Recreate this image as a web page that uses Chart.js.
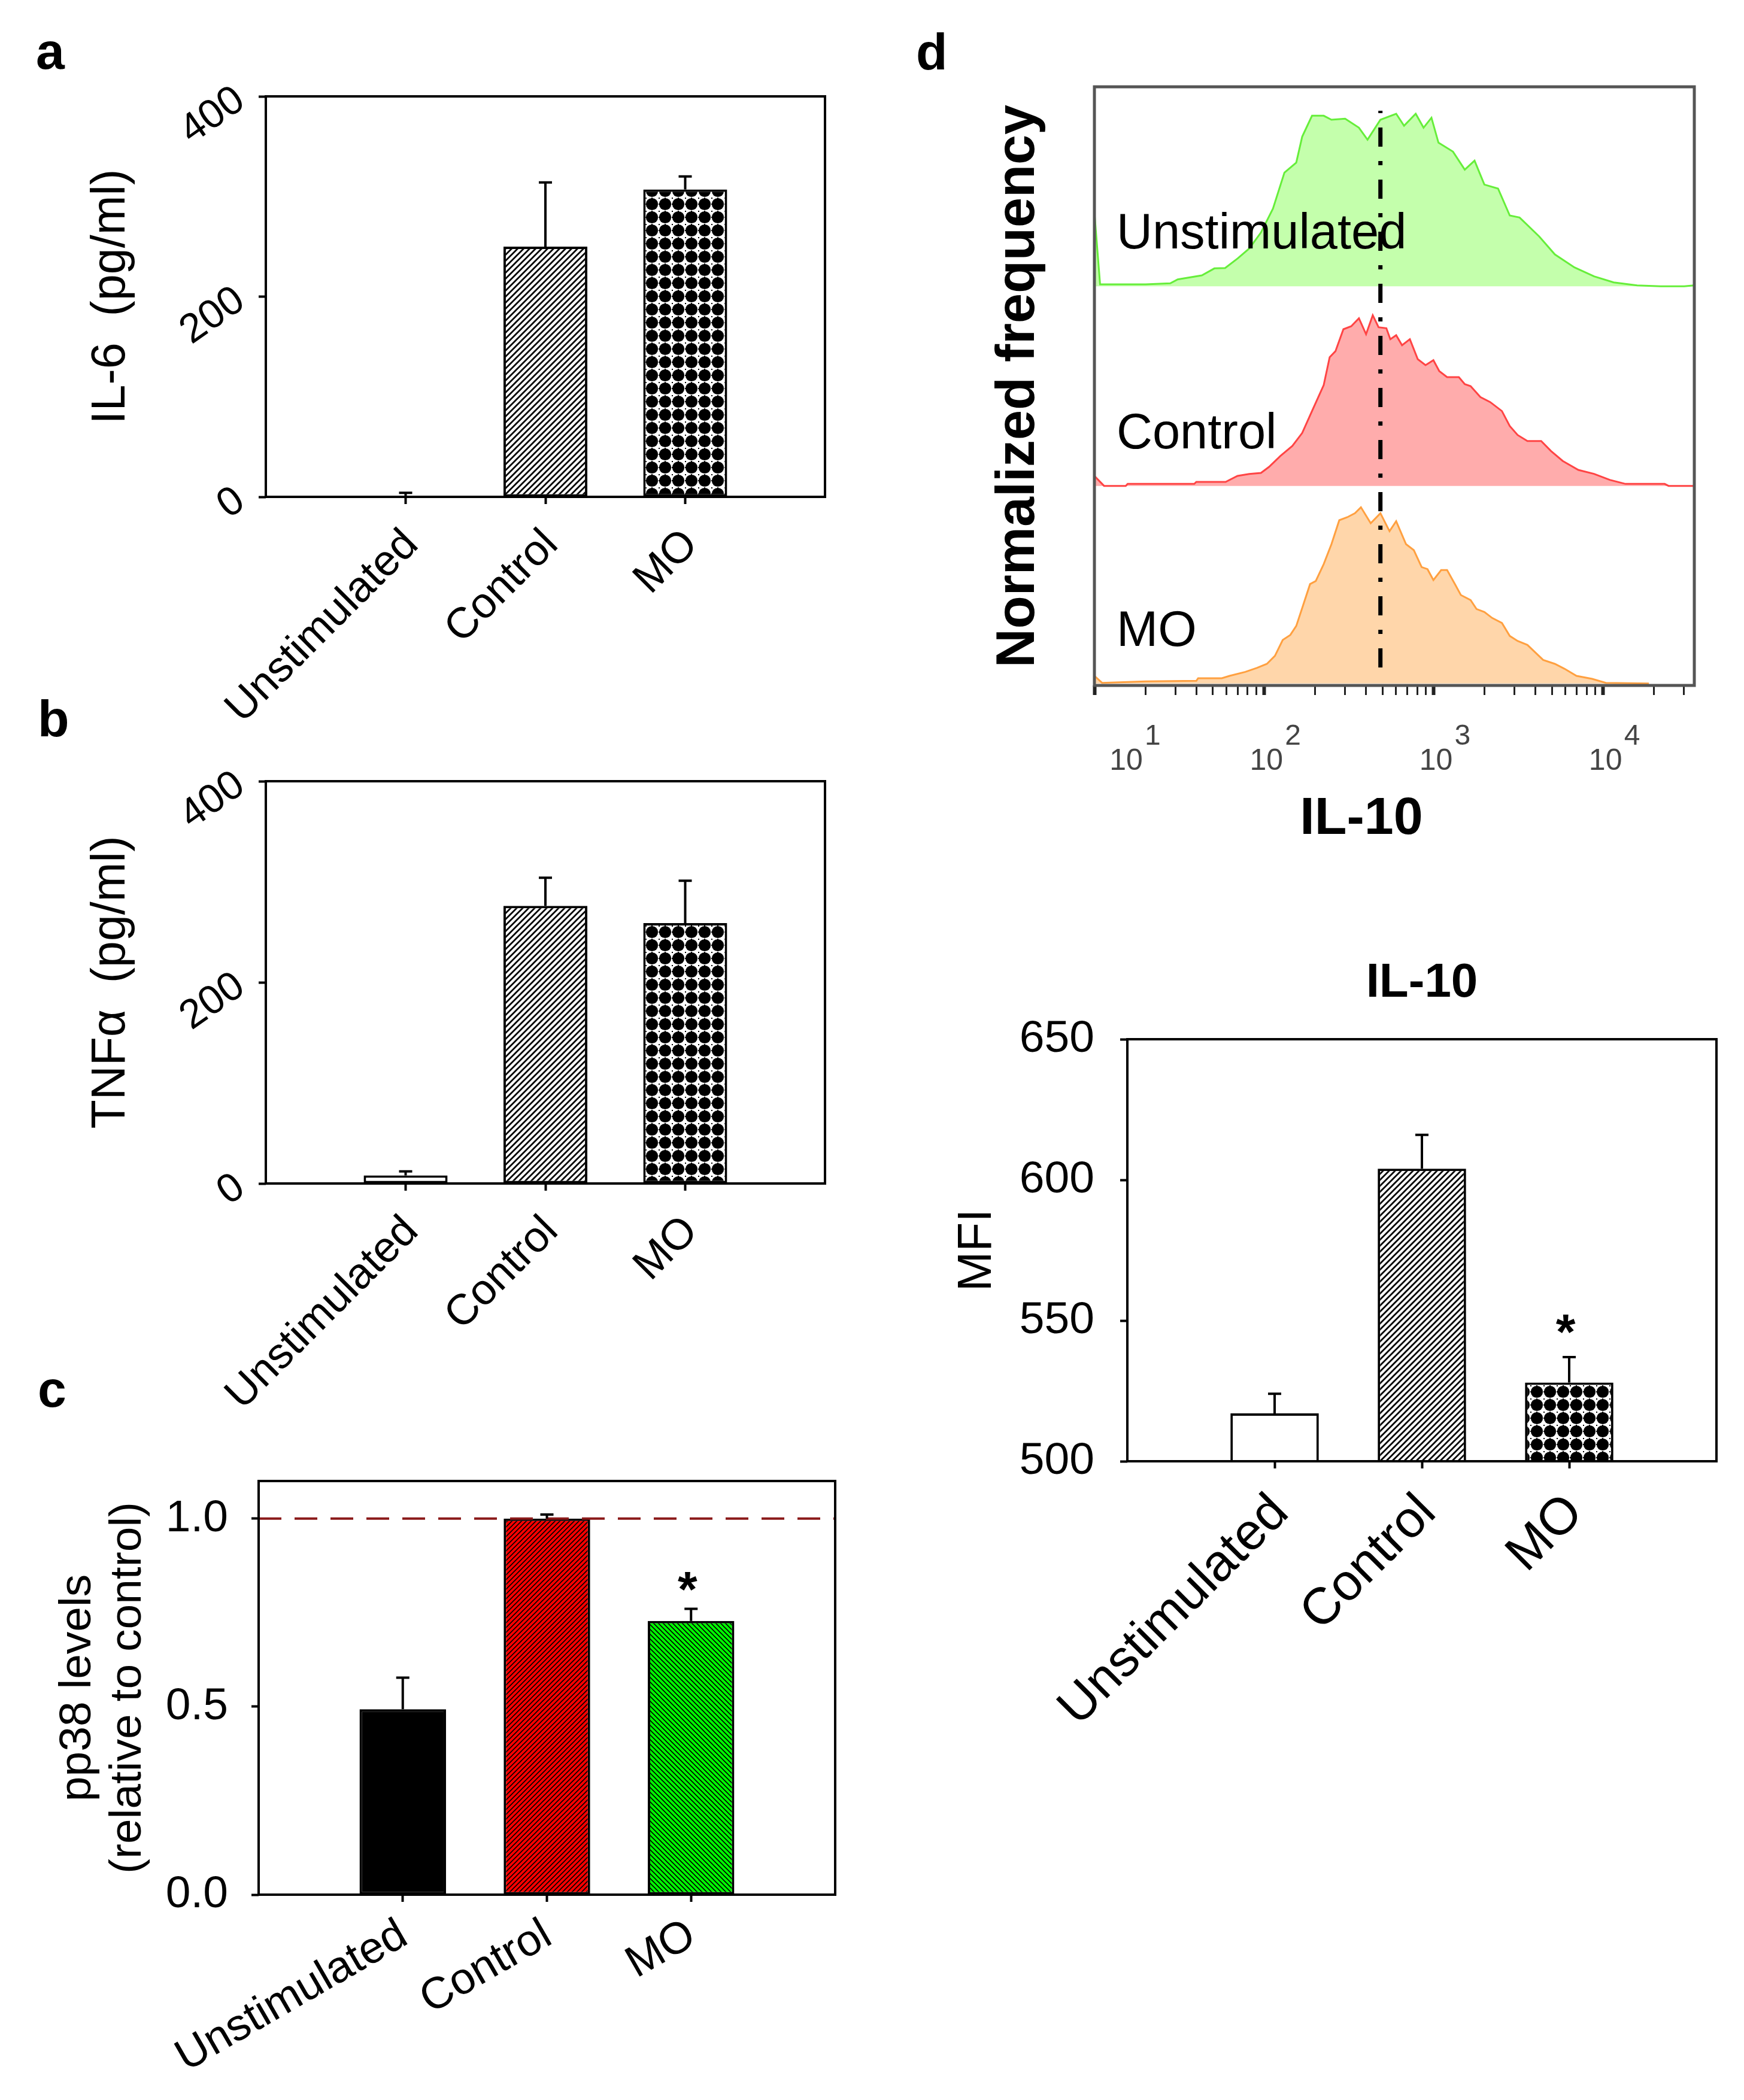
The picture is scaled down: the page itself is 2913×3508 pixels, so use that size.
<!DOCTYPE html>
<html>
<head>
<meta charset="utf-8">
<title>IL-6, TNFα, pp38 and IL-10</title>
<script src="https://cdn.jsdelivr.net/npm/chart.js@4.4.1/dist/chart.umd.min.js"></script>
<style>
  html, body { margin:0; padding:0; background:#fff; }
  #page { position:relative; width:2913px; height:3508px; background:#fff; overflow:hidden; }
  #page canvas { position:absolute; }
  .panel-letter { position:absolute; font-family:'Liberation Sans', Arial, sans-serif; font-weight:bold; font-size:86px; line-height:86px; color:#000; margin:0; }
</style>
</head>
<body>
<div id="page">
  <div class="panel-letter" style="left:60px;top:42px;">a</div>
  <div class="panel-letter" style="left:63px;top:1157px;">b</div>
  <div class="panel-letter" style="left:63px;top:2277px;">c</div>
  <div class="panel-letter" style="left:1530px;top:43px;">d</div>
  <canvas id="chartA" width="1456" height="1240" style="left:0px;top:0px;"></canvas>
  <canvas id="chartB" width="1456" height="1240" style="left:0px;top:1150px;"></canvas>
  <canvas id="chartC" width="1456" height="1208" style="left:0px;top:2300px;"></canvas>
  <canvas id="chartD" width="1457" height="1460" style="left:1456px;top:0px;"></canvas>
  <canvas id="chartE" width="1457" height="1480" style="left:1456px;top:1500px;"></canvas>
</div>
<script>
// ---------------- DATA ----------------
const categories = ['Unstimulated', 'Control', 'MO'];

// panel a : IL-6 (pg/ml)
const il6Values = [0, 250, 307];
const il6Errors = [4, 64, 13];
const il6Ticks  = [0, 200, 400];

// panel b : TNFα (pg/ml)
const tnfValues = [8, 276, 259];
const tnfErrors = [4, 28, 42];
const tnfTicks  = [0, 200, 400];

// panel c : pp38 levels relative to control
const pp38Values = [0.493, 1.0, 0.728];
const pp38Errors = [0.084, 0.011, 0.032];
const pp38Stars  = [false, false, true];
const pp38Ticks  = [0.0, 0.5, 1.0];
const pp38Reference = 1.0;

// panel d : IL-10 flow cytometry histograms (x = IL-10 intensity, y = % of lane height)
const histXUnstim = [10, 10.8, 20, 28, 31, 43, 51, 59, 70, 82, 96, 113, 132, 155, 168, 192, 225, 250, 301, 363, 408, 486, 602, 670, 785, 873, 972, 1069, 1302, 1528, 1745, 1994, 2401, 2815, 3217, 4198, 5195, 6775, 8844, 11540, 15870, 21840, 30060, 34360];
const histYUnstim = [37, 1, 1, 1.5, 3.5, 5.5, 9, 9.2, 14, 19, 27, 39, 57, 62, 75, 85.5, 85.5, 83.5, 84, 79.5, 73.5, 83.5, 86.5, 80.5, 86.5, 79.5, 84.5, 72, 67.5, 58.5, 63, 51, 49, 35.5, 34.5, 25, 16, 9.5, 5, 2, 0.5, 0, 0, 0.5];
const histXControl = [10, 11.4, 15.3, 15.7, 38.8, 39.9, 59.4, 69.8, 81.8, 96, 107, 125, 147, 168, 192, 225, 244, 264, 294, 327, 363, 400, 438, 474, 527, 556, 602, 652, 725, 807, 897, 998, 1081, 1202, 1410, 1528, 1654, 1889, 2158, 2530, 2815, 3132, 3578, 4313, 4925, 5776, 7146, 8844, 10950, 13550, 23070, 24320, 34360];
const histYControl = [5, 0, 0, 1, 1, 2, 2, 5, 6, 6.5, 9.5, 15, 20, 26.5, 37.5, 50.5, 64.5, 67.5, 78.5, 80, 84, 76, 85.5, 79.5, 79, 73.5, 75.5, 70.5, 73.5, 63.5, 60.5, 63, 57.5, 54.5, 54.5, 51, 50, 44.5, 42, 37.5, 30, 25.5, 22.5, 22.5, 17.5, 12.5, 8, 6, 3, 1, 1, 0, 0];
const histXMO = [10, 11.1, 20, 39.9, 40.9, 56.4, 62.7, 77.6, 91, 104, 116, 129, 143, 155, 168, 187, 202, 225, 250, 278, 310, 344, 373, 426, 486, 550, 602, 688, 765, 851, 921, 998, 1109, 1202, 1337, 1449, 1654, 1792, 1994, 2218, 2531, 2815, 3132, 3578, 4429, 5195, 5933, 6966, 8616, 10380, 18620];
const histYMO = [3.8, 0.3, 1, 1.3, 2.6, 2.6, 3.8, 5.8, 7.8, 9.8, 13.8, 21.8, 24.3, 28.8, 37.8, 49.8, 51.3, 59.8, 69.8, 81.8, 83.3, 85.3, 88.3, 80.3, 85.3, 76.3, 81.3, 69.8, 66.8, 58.3, 57.3, 51.8, 56.8, 56.8, 49.8, 44.3, 41.8, 37.3, 35.8, 32.8, 30.3, 23.8, 21.3, 19.3, 11.8, 9.8, 7.3, 3.8, 2.3, 0.3, 0];
const il10Median = 486;
const medianSpan = [3, 96];
const logTicks = [10, 20, 30, 40, 50, 60, 70, 80, 90, 100, 200, 300, 400, 500, 600, 700, 800, 900, 1000, 2000, 3000, 4000, 5000, 6000, 7000, 8000, 9000, 10000, 20000, 30000];
const decadeTicks = [10, 100, 1000, 10000];

// panel e : IL-10 MFI
const mfiValues = [517, 604, 528];
const mfiErrors = [7, 12, 9];
const mfiStars  = [false, false, true];
const mfiTicks  = [500, 550, 600, 650];

// ---------------- SETUP ----------------
const FONT = "'Liberation Sans', Arial, Helvetica, sans-serif";
Chart.defaults.font.family = FONT;
Chart.defaults.color = '#000';
Chart.defaults.animation = false;
Chart.defaults.responsive = false;
Chart.defaults.maintainAspectRatio = false;
Chart.defaults.devicePixelRatio = 1;
Chart.defaults.events = [];
Chart.defaults.plugins.legend.display = false;
Chart.defaults.plugins.tooltip.enabled = false;

function hatchPattern(bg, fg, size, width, dir) {
  const c = document.createElement('canvas');
  c.width = size; c.height = size;
  const g = c.getContext('2d');
  g.fillStyle = bg; g.fillRect(0, 0, size, size);
  g.strokeStyle = fg; g.lineWidth = width; g.lineCap = 'square';
  g.beginPath();
  for (let k = -1; k <= 2; k++) {
    if (dir === '/') { g.moveTo(-size, k * size + size); g.lineTo(2 * size, k * size - 2 * size); }
    else { g.moveTo(-size, k * size - size); g.lineTo(2 * size, k * size + 2 * size); }
  }
  g.stroke();
  return g.createPattern(c, 'repeat');
}
function dotPattern(size) {
  const c = document.createElement('canvas');
  c.width = size; c.height = size;
  const g = c.getContext('2d');
  g.fillStyle = '#fff'; g.fillRect(0, 0, size, size);
  g.fillStyle = '#000';
  g.beginPath();
  g.arc(size / 2, size / 2, size * 0.46, 0, Math.PI * 2);
  g.fill();
  g.fillRect(0, 0, 2, 2);
  g.fillRect(size / 2 - 1, 0, 2, 2);
  g.fillRect(0, size / 2 - 1, 2, 2);
  return g.createPattern(c, 'repeat');
}
const greyHatch = hatchPattern('#fff', '#000', 10, 2.8, '/');
const moDots = dotPattern(22);
const redHatch = hatchPattern('#ff0000', '#000', 8, 1.6, '/');
const greenHatch = hatchPattern('#00ff00', '#000', 8, 1.6, '\\');

const boxPlugin = {
  id: 'frameBox',
  afterDatasetsDraw(chart, args, opts) {
    const a = chart.chartArea, ctx = chart.ctx;
    ctx.save();
    ctx.strokeStyle = opts.color || '#000';
    ctx.lineWidth = opts.width || 4;
    ctx.strokeRect(a.left, a.top, a.right - a.left, a.bottom - a.top);
    ctx.restore();
  }
};

const errorBarPlugin = {
  id: 'errorBars',
  afterDatasetsDraw(chart, args, opts) {
    const ctx = chart.ctx, y = chart.scales.y;
    chart.data.datasets.forEach((ds, di) => {
      if (!ds.errors) return;
      const meta = chart.getDatasetMeta(di);
      meta.data.forEach((bar, i) => {
        const v = ds.data[i].y, e = ds.errors[i];
        const yTop = y.getPixelForValue(v + e);
        const yBase = y.getPixelForValue(v);
        ctx.save();
        ctx.strokeStyle = '#000';
        ctx.lineWidth = opts.width || 4;
        ctx.beginPath();
        ctx.moveTo(bar.x, yBase); ctx.lineTo(bar.x, yTop);
        ctx.moveTo(bar.x - opts.cap / 2, yTop); ctx.lineTo(bar.x + opts.cap / 2, yTop);
        ctx.stroke();
        if (ds.stars && ds.stars[i]) {
          ctx.fillStyle = '#000';
          ctx.font = 'bold ' + opts.starSize + 'px ' + FONT;
          ctx.textAlign = 'center';
          ctx.textBaseline = 'alphabetic';
          ctx.fillText('*', bar.x - 6, yTop - opts.starGap);
        }
        ctx.restore();
      });
    });
  }
};

function tickGrid(color) {
  return { display: true, offset: false, drawOnChartArea: false, drawTicks: true, tickLength: 12, tickWidth: 4, tickColor: color, color: color };
}

function barChart(id, cfg) {
  const datasets = [{
    data: categories.map((c, i) => ({ x: i + 1, y: cfg.values[i] })),
    errors: cfg.errors,
    stars: cfg.stars,
    backgroundColor: cfg.fills,
    borderColor: '#000',
    borderWidth: 4,
    borderSkipped: false,
    barPercentage: 0.6,
    categoryPercentage: 1.0,
    order: 2
  }].concat(cfg.extra || []);
  return new Chart(document.getElementById(id), {
    type: 'bar',
    data: { datasets },
    options: {
      layout: { padding: cfg.padding },
      plugins: {
        title: cfg.title || { display: false },
        frameBox: { color: '#000', width: 4 },
        errorBars: { cap: 22, width: 4, starSize: cfg.starSize || 84, starGap: cfg.starGap || 0 }
      },
      scales: {
        x: {
          type: 'linear', min: 0, max: 4, offset: false,
          afterBuildTicks: s => { s.ticks = categories.map((c, i) => ({ value: i + 1 })); },
          afterFit: s => { s.height = cfg.xHeight; },
          ticks: {
            callback: v => categories[v - 1] || '',
            autoSkip: false,
            minRotation: cfg.xRot, maxRotation: cfg.xRot,
            font: { size: cfg.xFont },
            padding: cfg.xPad,
            labelOffset: cfg.xOffset,
            color: '#000'
          },
          grid: tickGrid('#000'),
          border: { display: false }
        },
        y: {
          type: 'linear', min: cfg.yMin, max: cfg.yMax,
          afterBuildTicks: s => { s.ticks = cfg.yTicks.map(v => ({ value: v })); },
          afterFit: s => { s.width = cfg.yWidth; },
          ticks: {
            callback: cfg.yFmt,
            minRotation: cfg.yRot, maxRotation: cfg.yRot,
            font: { size: cfg.yFont },
            padding: cfg.yPad,
            color: '#000'
          },
          title: {
            display: true, text: cfg.yTitle, color: '#000',
            font: { size: cfg.yTitleSize, lineHeight: cfg.yTitleLH || 1.2 },
            padding: { top: cfg.yTitlePad, bottom: 0 }
          },
          grid: tickGrid('#000'),
          border: { display: false }
        }
      }
    },
    plugins: [boxPlugin, errorBarPlugin]
  });
}

// panel a
barChart('chartA', {
  values: il6Values, errors: il6Errors, fills: ['#ffffff', greyHatch, moDots],
  padding: { left: 0, top: 161, right: 78, bottom: 0 },
  xHeight: 410, xRot: 45, xFont: 72, xPad: 26, xOffset: 10,
  yMin: 0, yMax: 400, yTicks: il6Ticks, yFmt: v => String(v), yWidth: 444, yRot: 35, yFont: 68, yPad: 30,
  yTitle: 'IL-6  (pg/ml)', yTitleSize: 79, yTitlePad: 139
});

// panel b
barChart('chartB', {
  values: tnfValues, errors: tnfErrors, fills: ['#ffffff', greyHatch, moDots],
  padding: { left: 0, top: 155, right: 78, bottom: 0 },
  xHeight: 413, xRot: 45, xFont: 72, xPad: 26, xOffset: 10,
  yMin: 0, yMax: 400, yTicks: tnfTicks, yFmt: v => String(v), yWidth: 444, yRot: 35, yFont: 68, yPad: 30,
  yTitle: 'TNFα  (pg/ml)', yTitleSize: 79, yTitlePad: 139
});

// panel c
barChart('chartC', {
  values: pp38Values, errors: pp38Errors, stars: pp38Stars, fills: ['#000000', redHatch, greenHatch],
  padding: { left: 0, top: 174, right: 61, bottom: 0 },
  xHeight: 343, xRot: 30, xFont: 74, xPad: 12, xOffset: 2,
  yMin: 0, yMax: 1.1, yTicks: pp38Ticks, yFmt: v => v.toFixed(1), yWidth: 432, yRot: 0, yFont: 75, yPad: 39,
  yTitle: ['pp38 levels', '(relative to control)'], yTitleSize: 75, yTitleLH: 1.12, yTitlePad: 88,
  starSize: 84, starGap: 4,
  extra: [{
    type: 'line',
    data: [{ x: 0, y: pp38Reference }, { x: 4, y: pp38Reference }],
    borderColor: '#8b1a1a', borderWidth: 4, borderDash: [38, 22],
    pointRadius: 0, fill: false, order: 1
  }]
});

// panel e
barChart('chartE', {
  values: mfiValues, errors: mfiErrors, stars: mfiStars, fills: ['#ffffff', greyHatch, moDots],
  padding: { left: 0, top: 0, right: 46, bottom: 0 },
  title: { display: true, text: 'IL-10', color: '#000', font: { size: 80, weight: 'bold' }, padding: { top: 95, bottom: 45 }, fullSize: false },
  xHeight: 539, xRot: 45, xFont: 86, xPad: 24, xOffset: 10,
  yMin: 500, yMax: 650, yTicks: mfiTicks, yFmt: v => String(v), yWidth: 427, yRot: 0, yFont: 75, yPad: 43,
  yTitle: 'MFI', yTitleSize: 80, yTitlePad: 129,
  starSize: 84, starGap: 13
});

// panel d : histograms
const histAxisIds = ['yU', 'yC', 'yM'];
const histAxisTitle = 'IL-10';
const histLinePlugin = {
  id: 'histText',
  afterDatasetsDraw(chart) {
    const ctx = chart.ctx, a = chart.chartArea;
    ctx.save();
    ctx.fillStyle = '#000';
    ctx.font = '83px ' + FONT;
    ctx.textAlign = 'left';
    ctx.textBaseline = 'alphabetic';
    categories.forEach((label, i) => {
      const base = chart.scales[histAxisIds[i]].getPixelForValue(0);
      ctx.fillText(label, a.left + 37, base - 63);
    });
    ctx.restore();
  },
  afterDraw(chart) {
    const ctx = chart.ctx, a = chart.chartArea, x = chart.scales.x;
    ctx.save();
    ctx.fillStyle = '#444';
    decadeTicks.forEach(d => {
      const px = x.getPixelForValue(d);
      const cx = Math.max(px + 4, a.left + 53);
      ctx.font = '50px ' + FONT;
      ctx.textAlign = 'center';
      ctx.textBaseline = 'alphabetic';
      ctx.fillText('10', cx, a.bottom + 141);
      ctx.font = '48px ' + FONT;
      ctx.textAlign = 'left';
      ctx.fillText(String(Math.round(Math.log10(d))), cx + 31, a.bottom + 99);
    });
    // x-axis title, slightly left of centre as in the original figure
    ctx.fillStyle = '#000';
    ctx.font = 'bold 88px ' + FONT;
    ctx.textAlign = 'center';
    ctx.textBaseline = 'middle';
    ctx.fillText(histAxisTitle, (a.left + a.right) / 2 - 55, a.bottom + 224);
    ctx.restore();
  }
};

function xy(xs, ys) { return xs.map((v, i) => ({ x: v, y: ys[i] })); }

new Chart(document.getElementById('chartD'), {
  type: 'line',
  data: {
    datasets: [
      { data: [{ x: il10Median, y: medianSpan[0] }, { x: il10Median, y: medianSpan[1] }], yAxisID: 'yv',
        borderColor: '#000', borderWidth: 7, borderDash: [32, 24, 7, 24], pointRadius: 0, fill: false, order: 0 },
      { data: xy(histXUnstim, histYUnstim), yAxisID: 'yU', borderColor: '#66ee3a', backgroundColor: '#c4ffac',
        borderWidth: 3, pointRadius: 0, tension: 0, fill: 'origin', order: 1 },
      { data: xy(histXControl, histYControl), yAxisID: 'yC', borderColor: '#ff4444', backgroundColor: '#ffacac',
        borderWidth: 3, pointRadius: 0, tension: 0, fill: 'origin', order: 2 },
      { data: xy(histXMO, histYMO), yAxisID: 'yM', borderColor: '#ffa040', backgroundColor: '#ffd6aa',
        borderWidth: 3, pointRadius: 0, tension: 0, fill: 'origin', order: 3 }
    ]
  },
  options: {
    layout: { padding: { left: 0, top: 145, right: 83, bottom: 0 } },
    plugins: { frameBox: { color: '#555', width: 5 } },
    scales: {
      x: {
        type: 'logarithmic', min: 10, max: 34500,
        afterBuildTicks: s => { s.ticks = logTicks.map(v => ({ value: v, major: decadeTicks.includes(v) })); },
        afterFit: s => { s.height = 315; },
        ticks: { display: false },
        grid: {
          display: true, drawOnChartArea: false, drawTicks: true, tickLength: 16,
          tickColor: '#222', color: '#222',
          tickWidth: ctx => (ctx.tick && decadeTicks.includes(ctx.tick.value)) ? 6 : 3
        },
        border: { display: false },
        title: { display: false }
      },
      yv: {
        type: 'linear', position: 'left', min: 0, max: 100,
        afterFit: s => { s.width = 372; },
        ticks: { display: false },
        grid: { display: false },
        border: { display: false },
        title: { display: true, text: 'Normalized frequency', color: '#000', font: { size: 90, weight: 'bold' }, padding: { top: 192, bottom: 0 } }
      },
      yU: { type: 'linear', display: false, min: -200, max: 100 },
      yC: { type: 'linear', display: false, min: -100, max: 200 },
      yM: { type: 'linear', display: false, min: -1, max: 299 }
    }
  },
  plugins: [boxPlugin, histLinePlugin]
});
</script>
</body>
</html>
